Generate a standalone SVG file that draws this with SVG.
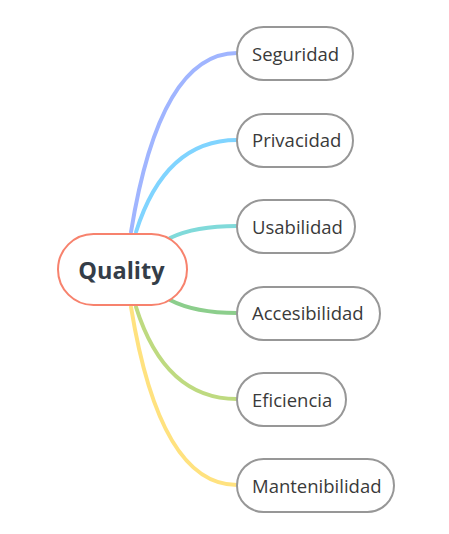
<svg xmlns="http://www.w3.org/2000/svg" width="449" height="534" viewBox="0 0 449 534">
<style>
.node rect{fill:#fff;stroke:#979797;stroke-width:2}
.node text{font-family:"Open Sans",Lato,sans-serif;font-size:18.5px;fill:#3a3a3a}
#quality rect{stroke:#F7826D;stroke-width:2}
#quality text{font-family:"Open Sans",Lato,sans-serif;font-size:23.5px;font-weight:bold;fill:#343D48;text-anchor:middle}
.conn path{fill:none;stroke-width:4;stroke-linecap:round}
</style>
<rect width="449" height="534" fill="#fff"/>
<g id="connectors" class="conn">
<path d="M131,232 Q160,53 237,53" stroke="#A0B5FF"/>
<path d="M136,232 Q165,140 237,140" stroke="#80D4FF"/>
<path d="M170,238 Q195,226 237,226" stroke="#80DADA"/>
<path d="M170,300 Q195,313 237,313" stroke="#8CCE8C"/>
<path d="M136,307 Q165,399 237,399" stroke="#BEDA80"/>
<path d="M131,307 Q160,485 237,485" stroke="#FFE27F"/>
</g>
<g id="quality" class="node"><rect x="58" y="234" width="129" height="71" rx="35.5"/><text x="121.5" y="278.5">Quality</text></g>
<g id="seguridad" class="node"><rect x="237" y="27" width="116" height="53" rx="26.5"/><text x="252" y="60.5">Seguridad</text></g>
<g id="privacidad" class="node"><rect x="237" y="114" width="116" height="53" rx="26.5"/><text x="252" y="147">Privacidad</text></g>
<g id="usabilidad" class="node"><rect x="237" y="200" width="118" height="53" rx="26.5"/><text x="252" y="233.5">Usabilidad</text></g>
<g id="accesibilidad" class="node"><rect x="237" y="287" width="143" height="53" rx="26.5"/><text x="252" y="320">Accesibilidad</text></g>
<g id="eficiencia" class="node"><rect x="237" y="373" width="109" height="53" rx="26.5"/><text x="252" y="406.5">Eficiencia</text></g>
<g id="mantenibilidad" class="node"><rect x="237" y="459" width="157" height="53" rx="26.5"/><text x="252" y="492.5">Mantenibilidad</text></g>
</svg>
